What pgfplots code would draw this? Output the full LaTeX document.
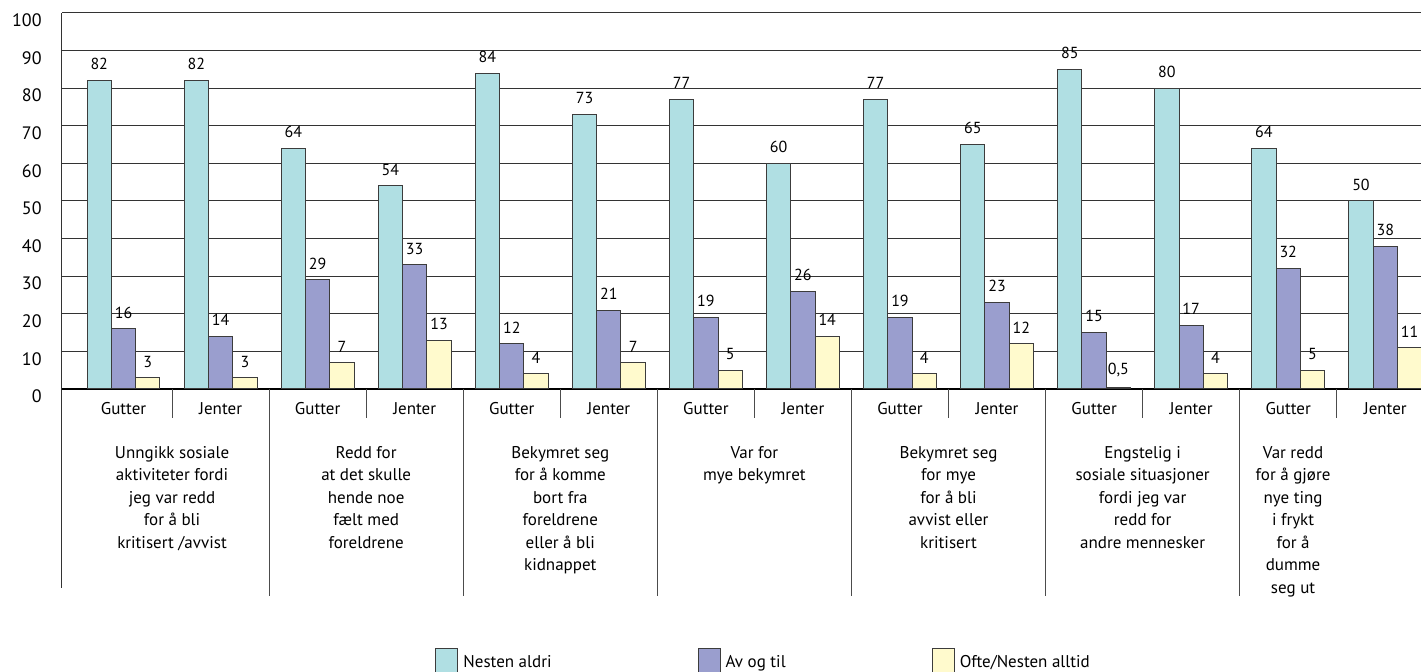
\documentclass[border=0pt]{standalone}
\usepackage{fontspec}
\setmainfont{PT Sans}
\usepackage{pgfplots}
\usepackage{pgfplotstable}
\pgfplotsset{compat=1.18}

\definecolor{cTeal}{RGB}{176,223,227}
\definecolor{cPurple}{RGB}{154,158,206}
\definecolor{cYellow}{RGB}{255,250,205}
\definecolor{cEdge}{RGB}{60,60,60}

% x: group (Gutter/Jenter per item), a: Nesten aldri, b: Av og til, c: Ofte/Nesten alltid
\pgfplotstableread{
x  a   b   c
0  82  16  3
1  82  14  3
2  64  29  7
3  54  33  13
4  84  12  4
5  73  21  7
6  77  19  5
7  60  26  14
8  77  19  4
9  65  23  12
10 85  15  0.5
11 80  17  4
12 64  32  5
13 50  38  11
}\datatable

\begin{document}
\begin{tikzpicture}
\begin{axis}[
  at={(0,0)}, anchor=south west,
  scale only axis, width=679.5pt, height=188pt,
  xmin=-0.634, xmax=13.368, ymin=0, ymax=100,
  ybar=0pt, bar width=12.15pt,
  axis x line=bottom, axis y line=left,
  axis line style={-},
  x axis line style={line width=0.75pt, black},
  y axis line style={line width=0.5pt, black!80},
  ytick={0,10,...,100},
  xtick={0,...,13},
  xticklabels={Gutter,Jenter,Gutter,Jenter,Gutter,Jenter,Gutter,Jenter,Gutter,Jenter,Gutter,Jenter,Gutter,Jenter},
  major tick length=0pt,
  ymajorgrids, major grid style={line width=0.5pt, black!80},
  /pgf/number format/assume math mode=true,
  /pgf/number format/use comma,
  yticklabel style={font=\fontsize{9}{10}\selectfont, anchor=east, inner sep=0pt, xshift=-10pt, yshift=-3.75pt},
  xticklabel style={font=\fontsize{8.5}{10}\selectfont, anchor=base, inner sep=0pt, yshift=-13pt},
  nodes near coords,
  every node near coord/.append style={font=\fontsize{8}{9}\selectfont, inner sep=0pt, yshift=5pt, black},
  clip=false,
  legend columns=3,
  legend style={at={(axis description cs:0.2745,-0.689)}, anchor=north west, draw=none, fill=none, inner sep=0pt,
    font=\fontsize{8.5}{10}\selectfont, column sep=2.5pt, nodes={inner sep=0pt},
    /tikz/every even column/.append style={column sep=73pt}},
  legend image code/.code={\draw[#1] (0pt,-5.5pt) rectangle (11pt,7pt);},
]
\addplot[fill=cTeal, draw=cEdge, line width=0.5pt] table[x=x, y=a] {\datatable};
\addlegendentry{Nesten aldri}
\addplot[fill=cPurple, draw=cEdge, line width=0.5pt] table[x=x, y=b] {\datatable};
\addlegendentry{Av og til}
\addplot[fill=cYellow, draw=cEdge, line width=0.5pt] table[x=x, y=c] {\datatable};
\addlegendentry{Ofte/Nesten alltid}

% left frame line continues under the category labels
\draw[line width=0.5pt, black!80] (rel axis cs:0,0) -- ++(0pt,-99.5pt);
% separators between items
\pgfplotsinvokeforeach{1.5,3.5,5.5,7.5,9.5,11.5}{
  \draw[line width=0.5pt, black!70] (axis cs:#1,0) -- ++(0pt,-103.5pt);
}
% separators between Gutter and Jenter
\pgfplotsinvokeforeach{0.5,2.5,4.5,6.5,8.5,10.5,12.5}{
  \draw[line width=0.5pt, black!70] (axis cs:#1,0) -- ++(0pt,-14.5pt);
}

% item descriptions
\tikzset{catlabel/.style={anchor=north, align=center, inner sep=0pt, yshift=-28.5pt, font=\fontsize{8.5}{11.25}\selectfont}}
\node[catlabel] at (axis cs:0.5,0) {Unngikk sosiale\\aktiviteter fordi\\jeg var redd\\for å bli\\kritisert /avvist};
\node[catlabel] at (axis cs:2.5,0) {Redd for\\at det skulle\\hende noe\\fælt med\\foreldrene};
\node[catlabel] at (axis cs:4.5,0) {Bekymret seg\\for å komme\\bort fra\\foreldrene\\eller å bli\\kidnappet};
\node[catlabel] at (axis cs:6.5,0) {Var for\\mye bekymret};
\node[catlabel] at (axis cs:8.5,0) {Bekymret seg\\for mye\\for å bli\\avvist eller\\kritisert};
\node[catlabel] at (axis cs:10.5,0) {Engstelig i\\sosiale situasjoner\\fordi jeg var\\redd for\\andre mennesker};
\node[catlabel] at (axis cs:12.05,0) {Var redd\\for å gjøre\\nye ting\\i frykt\\for å\\dumme\\seg ut};
\end{axis}
\pgfresetboundingbox
\path[use as bounding box] (-31pt,-141.5pt) rectangle (679.5pt,194.5pt);
\end{tikzpicture}
\end{document}
